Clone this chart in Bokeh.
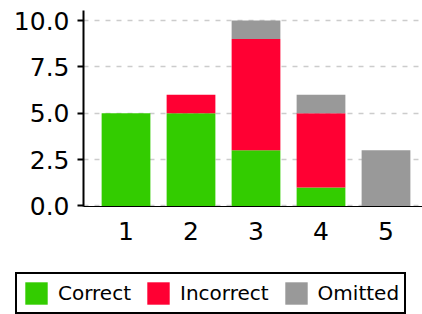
from bokeh.plotting import figure
from bokeh.layouts import column, row
from bokeh.models import (Range1d, FixedTicker, NumeralTickFormatter, Legend, LegendItem,
                          ColumnDataSource)
from bokeh.embed import file_html
from bokeh.resources import INLINE

questions = [1, 2, 3, 4, 5]
correct = [5, 5, 3, 1, 0]
incorrect = [0, 1, 6, 4, 0]
omitted = [0, 0, 1, 1, 3]
series = ["Correct", "Incorrect", "Omitted"]
colors = ["#33CC00", "#FF0033", "#999999"]
y_ticks = [0, 2.5, 5, 7.5, 10]

FONT = "DejaVu Sans"

src = ColumnDataSource(dict(x=questions, Correct=correct, Incorrect=incorrect, Omitted=omitted))

p = figure(width=422, height=272, output_backend="svg", toolbar_location=None,
           x_range=Range1d(0.346, 5.5615), y_range=Range1d(-0.03, 10.54),
           min_border_left=83, min_border_right=0, min_border_top=10, min_border_bottom=66)
p.outline_line_color = None
p.background_fill_color = "white"

p.vbar_stack(series, x="x", width=0.75, source=src, color=colors, line_color=None)

p.xgrid.visible = False
p.ygrid.ticker = FixedTicker(ticks=y_ticks)
p.ygrid.grid_line_color = "#cccccc"
p.ygrid.grid_line_dash = "5 6"
p.ygrid.grid_line_width = 1.5

p.yaxis.ticker = FixedTicker(ticks=y_ticks)
p.yaxis.formatter = NumeralTickFormatter(format="0.0")
p.yaxis.axis_line_width = 2
p.yaxis.axis_line_color = "black"
p.yaxis.major_tick_line_width = 2
p.yaxis.major_tick_out = 6
p.yaxis.major_tick_in = 0
p.yaxis.minor_tick_line_color = None
p.yaxis.major_label_text_font = FONT
p.yaxis.major_label_text_font_size = "25px"
p.yaxis.major_label_text_color = "black"
p.yaxis.major_label_standoff = 8

p.xaxis.ticker = FixedTicker(ticks=questions)
p.xaxis.axis_line_width = 1
p.xaxis.axis_line_color = "black"
p.xaxis.major_tick_line_color = None
p.xaxis.minor_tick_line_color = None
p.xaxis.major_label_text_font = FONT
p.xaxis.major_label_text_font_size = "25px"
p.xaxis.major_label_text_color = "black"
p.xaxis.major_label_standoff = 9

# legend strip: same stacked series, kept out of view, only the legend shows
lg = figure(frame_width=407, frame_height=42, output_backend="svg", toolbar_location=None,
            x_range=Range1d(0.346, 5.5615), y_range=Range1d(100, 101),
            x_axis_location=None, y_axis_location=None,
            min_border_left=15, min_border_right=0, min_border_top=0, min_border_bottom=0)
lg.outline_line_color = None
lg.grid.visible = False
lg.background_fill_color = "white"

legend_renderers = lg.vbar_stack(series, x="x", width=0.75, source=src, color=colors,
                                 line_color=None)
items = [LegendItem(label=s, renderers=[r]) for s, r in zip(series, legend_renderers)]
legend = Legend(items=items, orientation="horizontal", location="top_left",
                label_text_font=FONT, label_text_font_size="20px", label_text_color="black",
                glyph_width=28, glyph_height=28, label_standoff=8, spacing=13,
                padding=5, margin=0, border_line_color="black", border_line_width=2,
                border_line_alpha=1,
                background_fill_color="white", background_fill_alpha=1)
lg.add_layout(legend, "center")

layout = column(p, row(lg, spacing=0), spacing=0)
open("out.html", "w").write(file_html(layout, INLINE))
